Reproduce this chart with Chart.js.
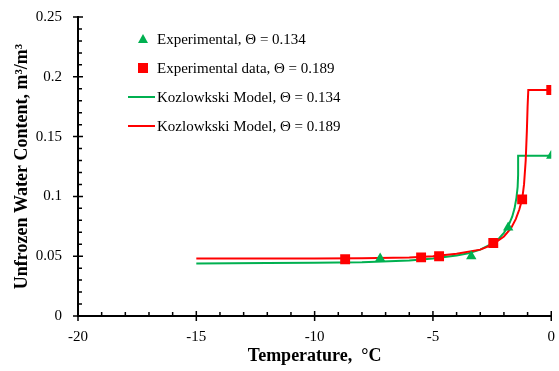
<!DOCTYPE html>
<html>
<head>
<meta charset="utf-8">
<script src="https://cdn.jsdelivr.net/npm/chart.js@4"></script>
<style>
  html, body { margin: 0; padding: 0; background: #fff; }
  #wrap { width: 559px; height: 371px; }
</style>
</head>
<body>
<div id="wrap"><canvas id="chart" width="559" height="371"></canvas></div>
<script>
// experimental points
const expTempA = [-7.23, -3.38, -1.82, 0];
const expWaterA = [0.048, 0.050, 0.074, 0.134];
const expTempB = [-8.71, -5.5, -4.74, -2.45, -1.23, 0];
const expWaterB = [0.0475, 0.049, 0.050, 0.061, 0.0975, 0.189];

// model curves
const modelTempA = [-15, -12, -10, -8, -6, -5, -4, -3.5, -3, -2.5, -2.2, -2, -1.8, -1.65, -1.55, -1.47, -1.42, -1.40, -1.40, 0];
const modelWaterA = [0.044, 0.0443, 0.0446, 0.045, 0.0465, 0.048, 0.0505, 0.0525, 0.0555, 0.0605, 0.065, 0.0695, 0.076, 0.083, 0.09, 0.099, 0.108, 0.118, 0.134, 0.134];
const modelTempB = [-15, -10, -8, -6, -5, -4, -3, -2.5, -2, -1.7, -1.5, -1.35, -1.23, -1.15, -1.08, -1.03, -1.0, -0.97, 0];
const modelWaterB = [0.048, 0.048, 0.0483, 0.049, 0.050, 0.052, 0.0555, 0.0595, 0.0665, 0.0735, 0.081, 0.089, 0.0975, 0.11, 0.13, 0.155, 0.175, 0.189, 0.189];

const labels = ["Experimental, Θ = 0.134", "Experimental data, Θ = 0.189", "Kozlowkski Model, Θ = 0.134", "Kozlowkski Model, Θ = 0.189"];
const xTicks = [-20, -15, -10, -5, 0];
const yTicks = [0, 0.05, 0.1, 0.15, 0.2, 0.25];

const GREEN = "#00B050";
const RED = "#FF0000";
const FONT = "'Liberation Serif', 'Times New Roman', serif";

function pts(xs, ys) {
  return xs.map((x, i) => ({ x: x, y: ys[i] }));
}

// axis ticks: majors cross the axis, minors point inward
const tickPlugin = {
  id: "ticks",
  afterDraw(chart) {
    const ctx = chart.ctx;
    const xs = chart.scales.x, ys = chart.scales.y;
    const x0 = xs.left, y0 = ys.bottom;
    ctx.save();
    ctx.strokeStyle = "#000";
    ctx.lineWidth = 1.5;
    ctx.beginPath();
    for (let i = 0; i < xTicks.length; i++) {
      const px = xs.getPixelForValue(xTicks[i]);
      ctx.moveTo(px, y0 - 5); ctx.lineTo(px, y0 + 5);
      if (i < xTicks.length - 1) {
        const step = (xTicks[i + 1] - xTicks[i]) / 5;
        for (let k = 1; k < 5; k++) {
          const mx = xs.getPixelForValue(xTicks[i] + k * step);
          ctx.moveTo(mx, y0); ctx.lineTo(mx, y0 - 4);
        }
      }
    }
    for (let i = 0; i < yTicks.length; i++) {
      const py = ys.getPixelForValue(yTicks[i]);
      ctx.moveTo(x0 - 5, py); ctx.lineTo(x0 + 5, py);
      if (i < yTicks.length - 1) {
        const step = (yTicks[i + 1] - yTicks[i]) / 5;
        for (let k = 1; k < 5; k++) {
          const my = ys.getPixelForValue(yTicks[i] + k * step);
          ctx.moveTo(x0, my); ctx.lineTo(x0 + 4, my);
        }
      }
    }
    ctx.stroke();
    ctx.restore();
  }
};

// legend inside the plot, upper left
const legendPlugin = {
  id: "insideLegend",
  afterDraw(chart) {
    const ctx = chart.ctx;
    const left = 128, textX = 157, top = 39, gap = 29;
    ctx.save();
    ctx.font = "15px " + FONT;
    ctx.fillStyle = "#000";
    ctx.textBaseline = "middle";
    chart.data.datasets.forEach((ds, i) => {
      const y = top + i * gap;
      ctx.fillStyle = ds.borderColor;
      ctx.strokeStyle = ds.borderColor;
      if (ds.showLine) {
        ctx.lineWidth = 2;
        ctx.beginPath();
        ctx.moveTo(left, y); ctx.lineTo(155, y);
        ctx.stroke();
      } else if (ds.pointStyle === "triangle") {
        ctx.beginPath();
        ctx.moveTo(143, y - 5); ctx.lineTo(148, y + 4); ctx.lineTo(138, y + 4);
        ctx.closePath(); ctx.fill();
      } else {
        ctx.fillRect(138, y - 5, 10, 10);
      }
      ctx.fillStyle = "#000";
      ctx.fillText(ds.label, textX, y + 1);
    });
    ctx.restore();
  }
};

new Chart(document.getElementById("chart"), {
  type: "scatter",
  data: {
    datasets: [
      { label: labels[0], data: pts(expTempA, expWaterA), showLine: false, pointStyle: "triangle",
        pointRadius: 6, backgroundColor: GREEN, borderColor: GREEN, borderWidth: 0, order: 0 },
      { label: labels[1], data: pts(expTempB, expWaterB), showLine: false, pointStyle: "rect",
        pointRadius: 7, backgroundColor: RED, borderColor: RED, borderWidth: 0, order: 0 },
      { label: labels[2], data: pts(modelTempA, modelWaterA), showLine: true, pointRadius: 0,
        borderColor: GREEN, backgroundColor: GREEN, borderWidth: 2, tension: 0, order: 2 },
      { label: labels[3], data: pts(modelTempB, modelWaterB), showLine: true, pointRadius: 0,
        borderColor: RED, backgroundColor: RED, borderWidth: 2, tension: 0, order: 1 }
    ]
  },
  options: {
    responsive: false,
    animation: false,
    layout: { padding: { left: 0, right: 2, top: 16, bottom: 0 } },
    plugins: { legend: { display: false }, tooltip: { enabled: false } },
    scales: {
      x: {
        type: "linear", min: -20, max: 0,
        afterBuildTicks: s => { s.ticks = xTicks.map(v => ({ value: v })); },
        afterFit: s => { s.height = 55; },
        grid: { display: false },
        border: { display: true, color: "#000", width: 2 },
        ticks: { color: "#000", padding: 4, font: { family: FONT, size: 15 },
          callback: v => String(v) },
        title: { display: true, text: "Temperature,  °C", color: "#000",
          font: { family: FONT, size: 18, weight: "bold" }, padding: { top: 0 } }
      },
      y: {
        type: "linear", min: 0, max: 0.25,
        afterBuildTicks: s => { s.ticks = yTicks.map(v => ({ value: v })); },
        afterFit: s => { s.width = 78; },
        grid: { display: false },
        border: { display: true, color: "#000", width: 2 },
        ticks: { color: "#000", padding: 8, font: { family: FONT, size: 15 },
          callback: v => String(+v.toFixed(2)) },
        title: { display: true, text: "Unfrozen Water Content, m³/m³", color: "#000",
          font: { family: FONT, size: 18, weight: "bold" }, padding: { bottom: 0, top: 12 } }
      }
    }
  },
  plugins: [tickPlugin, legendPlugin]
});
</script>
</body>
</html>
